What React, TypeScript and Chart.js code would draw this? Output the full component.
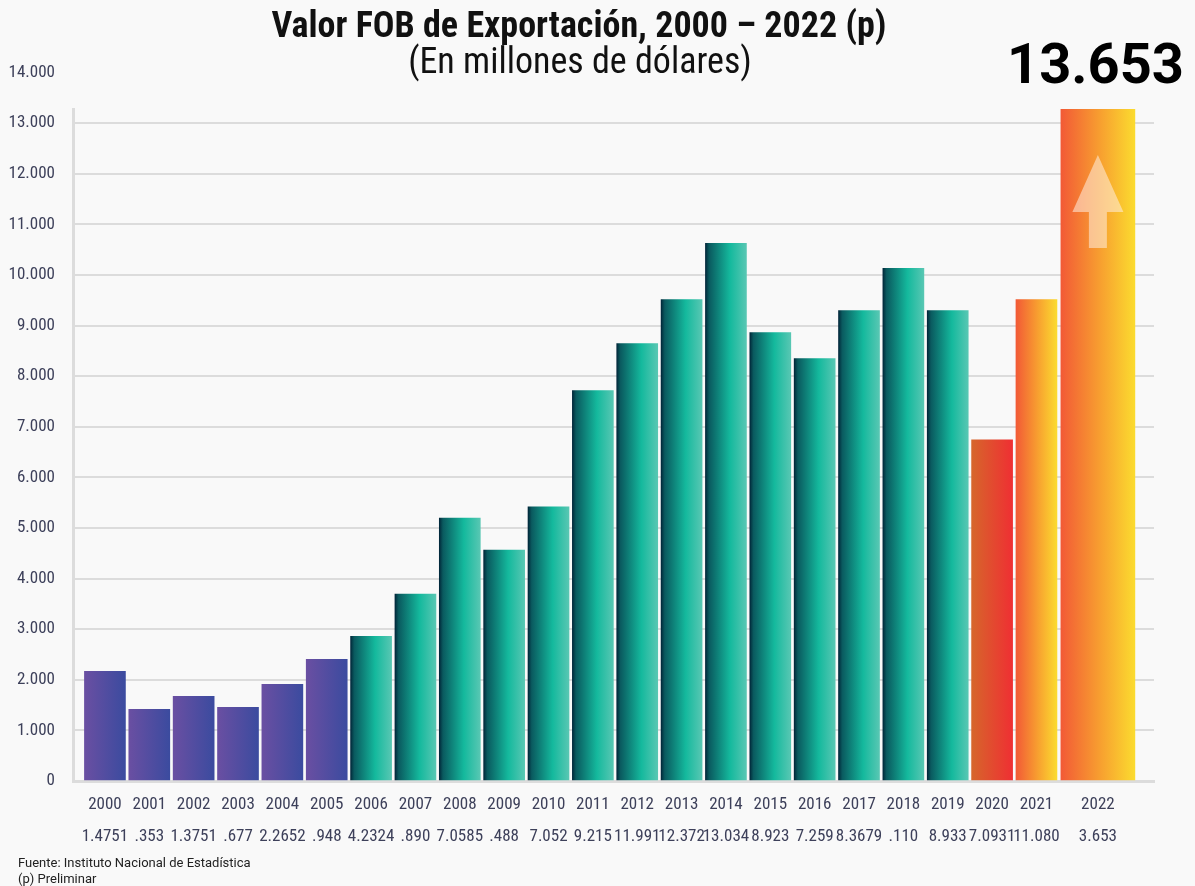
import React, { useEffect, useRef } from 'react';
import { Chart, registerables } from 'chart.js';

Chart.register(...registerables);

// ---- data ----
const years = ['2000', '2001', '2002', '2003', '2004', '2005', '2006', '2007', '2008', '2009', '2010', '2011', '2012', '2013', '2014', '2015', '2016', '2017', '2018', '2019', '2020', '2021', '2022'];
const secondLine = ['1.4751', '.353', '1.3751', '.677', '2.2652', '.948', '4.2324', '.890', '7.0585', '.488', '7.052', '9.215', '11.991', '12.372', '13.034', '8.923', '7.259', '8.3679', '.110', '8.933', '7.0931', '11.080', '3.653'];
const exportValues = [2168, 1416, 1673, 1455, 1911, 2406, 2861, 3693, 5198, 4564, 5416, 7713, 8644, 9515, 10624, 8861, 8347, 9297, 10129, 9297, 6743, 9515, 13653];
const yTickValues = [0, 1000, 2000, 3000, 4000, 5000, 6000, 7000, 8000, 9000, 10000, 11000, 12000, 13000, 14000];
const titleText = 'Valor FOB de Exportación, 2000 – 2022 (p)';
const subtitleText = '(En millones de dólares)';
const highlightText = '13.653';
const sourceLines = ['Fuente: Instituto Nacional de Estadística', '(p) Preliminar'];

const NARROW = "'Liberation Sans Narrow', 'Roboto Condensed', 'Arial Narrow', Roboto, sans-serif";
const TEXT_COLOR = '#3d405a';
const GRID_COLOR = '#dcdcdc';

const PURPLE: [number, string][] = [[0, '#6a4fa2'], [1, '#3b4b9f']];
const TEAL: [number, string][] = [[0, '#01263a'], [0.04, '#05404b'], [0.09, '#0a5a5f'], [0.6, '#14b99d'], [1, '#58c7b3']];
const RED: [number, string][] = [[0, '#d6662b'], [1, '#ef2f33']];
const ORANGE: [number, string][] = [[0, '#f25a36'], [0.5, '#f79b30'], [1, '#fbdb2f']];

function paletteFor(i: number) {
  if (i <= 5) return PURPLE;
  if (i <= 19) return TEAL;
  if (i === 20) return RED;
  return ORANGE;
}

const formatThousands = (v: number) => String(v).replace(/\B(?=(\d{3})+(?!\d))/g, '.');

export default function App() {
  const ref = useRef<HTMLCanvasElement>(null);

  useEffect(() => {
    document.body.style.margin = '0';
    const canvas = ref.current;
    if (!canvas) return;

    const lastIdx = years.length - 1;
    const WIDE_SLOT = 1.385; // the last year sits in a wider slot
    const slotX = (i: number) => (i < lastIdx ? i : lastIdx - 1 + WIDE_SLOT);
    const NORMAL_W = 41;
    const WIDE_W = 74;

    const mainData = exportValues.slice(0, lastIdx).map((v, i) => ({ x: slotX(i), y: v }));
    const lastData = [{ x: slotX(lastIdx), y: exportValues[lastIdx] }];
    const tickPositions = years.map((_, i) => slotX(i));

    const gradFill = (thickness: number, offset: number) => (c: any) => {
      const idx = c.dataIndex + offset;
      const stops = paletteFor(idx);
      const chart = c.chart;
      if (!chart.chartArea || c.type !== 'data' || !chart.scales.x) return stops[0][1];
      const px = chart.scales.x.getPixelForValue(c.raw.x);
      const g = chart.ctx.createLinearGradient(px - thickness / 2, 0, px + thickness / 2, 0);
      stops.forEach(([o, col]) => g.addColorStop(o, col));
      return g;
    };

    const overlay = {
      id: 'overlay',
      beforeDraw(chart: any) {
        const ctx = chart.ctx;
        ctx.save();
        ctx.fillStyle = '#f9f9f9';
        ctx.fillRect(0, 0, chart.width, chart.height);
        ctx.restore();
      },
      afterDatasetsDraw(chart: any) {
        const meta = chart.getDatasetMeta(1);
        const el = meta && meta.data && meta.data[0];
        if (!el) return;
        const ctx = chart.ctx;
        const cx = el.x;
        const top = chart.chartArea.top;
        const tipY = top + 46;
        const headY = top + 103;
        const bottomY = top + 139;
        ctx.save();
        ctx.fillStyle = 'rgba(255, 238, 225, 0.55)';
        ctx.beginPath();
        ctx.moveTo(cx, tipY);
        ctx.lineTo(cx + 25.5, headY);
        ctx.lineTo(cx + 9, headY);
        ctx.lineTo(cx + 9, bottomY);
        ctx.lineTo(cx - 9, bottomY);
        ctx.lineTo(cx - 9, headY);
        ctx.lineTo(cx - 25.5, headY);
        ctx.closePath();
        ctx.fill();
        ctx.restore();
      },
      afterDraw(chart: any) {
        const ctx = chart.ctx;
        ctx.save();
        ctx.fillStyle = '#111111';
        ctx.textAlign = 'center';
        ctx.textBaseline = 'alphabetic';
        ctx.font = `bold 36px ${NARROW}`;
        ctx.fillText(titleText, 579, 37);
        ctx.font = `36px ${NARROW}`;
        ctx.fillText(subtitleText, 580, 73);
        ctx.fillStyle = '#000000';
        ctx.textAlign = 'right';
        ctx.font = 'bold 56px Roboto, sans-serif';
        ctx.fillText(highlightText, 1184, 83);
        ctx.fillStyle = '#222222';
        ctx.textAlign = 'left';
        ctx.font = '13px Roboto, sans-serif';
        ctx.fillText(sourceLines[0], 18, 867);
        ctx.fillText(sourceLines[1], 18, 883);
        ctx.restore();
      },
    };

    const chart = new Chart(canvas, {
      type: 'bar',
      data: {
        datasets: [
          {
            data: mainData,
            barThickness: NORMAL_W,
            grouped: false,
            backgroundColor: gradFill(NORMAL_W, 0),
            borderWidth: 0,
          } as any,
          {
            data: lastData,
            barThickness: WIDE_W,
            grouped: false,
            clip: 0,
            backgroundColor: gradFill(WIDE_W, lastIdx),
            borderWidth: 0,
          } as any,
        ],
      },
      options: {
        responsive: false,
        animation: false,
        devicePixelRatio: 1,
        layout: { padding: { top: 109, right: 41, bottom: 0, left: 0 } },
        plugins: {
          legend: { display: false },
          tooltip: { enabled: false },
          title: { display: false },
        },
        scales: {
          x: {
            type: 'linear',
            offset: false,
            min: -0.72,
            max: 23.65,
            afterFit: (s: any) => { s.height = 105; },
            afterBuildTicks: (s: any) => { s.ticks = tickPositions.map((v) => ({ value: v })); },
            grid: { display: false, offset: false, drawTicks: false, tickLength: 0 },
            border: { display: true, color: GRID_COLOR, width: 3 },
            ticks: {
              autoSkip: false,
              maxRotation: 0,
              minRotation: 0,
              padding: 8,
              color: TEXT_COLOR,
              font: { family: NARROW, size: 17, lineHeight: '32px' } as any,
              callback: (_v: any, i: number) => [years[i], secondLine[i]],
            },
          },
          y: {
            type: 'linear',
            min: 0,
            max: 13280,
            afterFit: (s: any) => { s.width = 73; },
            afterBuildTicks: (s: any) => { s.ticks = yTickValues.map((v) => ({ value: v })); },
            grid: {
              drawTicks: false,
              tickLength: 0,
              lineWidth: 2,
              color: (c: any) => (c.tick && c.tick.value > 13280 ? 'rgba(0,0,0,0)' : GRID_COLOR),
            },
            border: { display: true, color: GRID_COLOR, width: 3 },
            ticks: {
              padding: 18,
              color: TEXT_COLOR,
              font: { family: NARROW, size: 17 },
              callback: (v: any) => formatThousands(Number(v)),
            },
          },
        },
      } as any,
      plugins: [overlay],
    });

    return () => chart.destroy();
  }, []);

  return (
    <div style={{ width: 1195, height: 886, position: 'relative', overflow: 'hidden' }}>
      <canvas ref={ref} width={1195} height={886} style={{ display: 'block', width: 1195, height: 886 }} />
    </div>
  );
}
